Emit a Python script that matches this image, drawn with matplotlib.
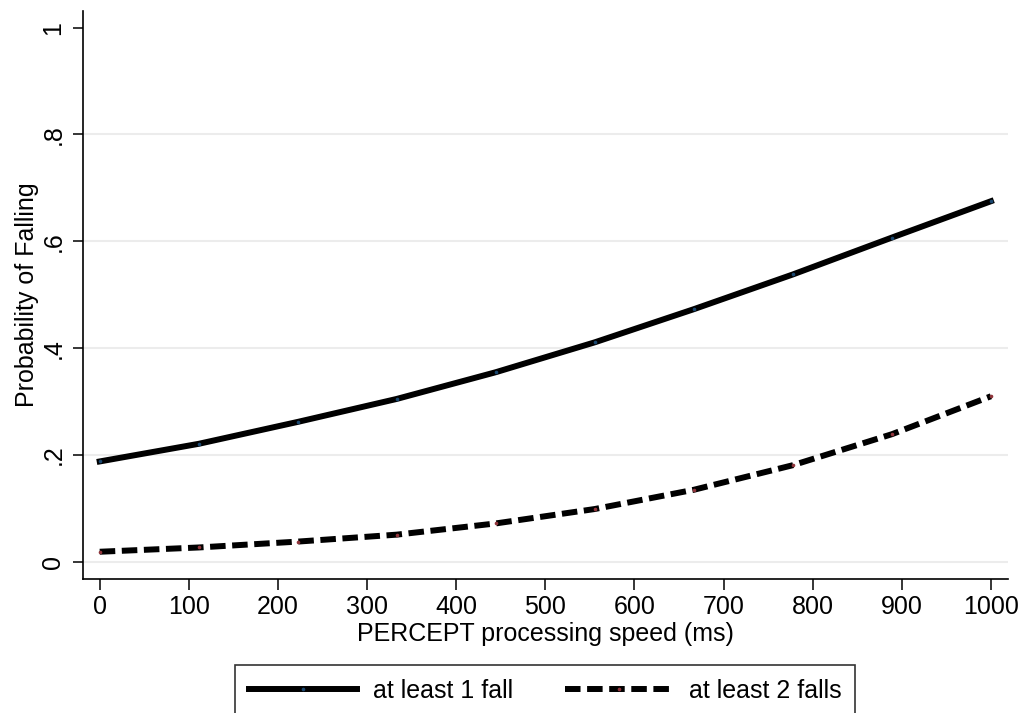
import matplotlib
matplotlib.use("Agg")
import matplotlib.pyplot as plt

plt.rcParams['font.family'] = ['Liberation Sans', 'DejaVu Sans']

# values
speed = [0, 111.1, 222.2, 333.3, 444.4, 555.6, 666.7, 777.8, 888.9, 1000]
one_fall = [0.188, 0.221, 0.262, 0.305, 0.355, 0.411, 0.473, 0.538, 0.607, 0.675]
two_falls = [0.019, 0.027, 0.038, 0.051, 0.072, 0.099, 0.135, 0.181, 0.239, 0.310]

xticks = [0, 100, 200, 300, 400, 500, 600, 700, 800, 900, 1000]
yticks = [0, 0.2, 0.4, 0.6, 0.8, 1]
ytick_labels = ['0', '.2', '.4', '.6', '.8', '1']
grid_vals = [0, 0.2, 0.4, 0.6, 0.8]

fs = 18

fig = plt.figure(figsize=(10.19, 7.13), dpi=100)
ax = fig.add_axes([82.7 / 1019, 1 - 579 / 713, (1007.7 - 82.7) / 1019, (579 - 11) / 713])

for g in grid_vals:
    ax.axhline(g, color='#ececec', lw=1.5, zorder=0)

ax.plot(speed, one_fall, color='black', lw=4.3, marker='o', ms=1.6,
        mfc='#1a476f', mec='#1a476f', label='at least 1 fall', zorder=3)
ax.plot(speed, two_falls, color='black', lw=4.3, ls=(0, (2.6, 1.1)), marker='o', ms=1.6,
        mfc='#90353b', mec='#90353b', label='at least 2 falls', zorder=3)

ax.set_xlim(-19.1, 1018.8)
ax.set_ylim(-0.032, 1.031)
ax.set_xticks(xticks)
ax.set_xticklabels([str(t) for t in xticks], fontsize=fs)
ax.set_yticks(yticks)
ax.set_yticklabels(ytick_labels, fontsize=fs, rotation=90, va='center')

ax.spines['top'].set_visible(False)
ax.spines['right'].set_visible(False)
for s in ['left', 'bottom']:
    ax.spines[s].set_linewidth(1.2)
ax.tick_params(axis='x', length=8, width=1.1, pad=3.5)
ax.tick_params(axis='y', length=7.5, width=1.1, pad=5)

ax.set_xlabel('PERCEPT processing speed (ms)', fontsize=fs, labelpad=2)
ax.set_ylabel('Probability of Falling', fontsize=fs, labelpad=2)

leg = fig.legend(loc='upper center', bbox_to_anchor=(545.3 / 1019, 1 - 665 / 713),
                 ncol=2, fontsize=fs, frameon=True, fancybox=False, borderaxespad=0,
                 handlelength=4.3, handletextpad=0.64, columnspacing=2.1, borderpad=0.55)
leg.get_frame().set_edgecolor('black')
leg.get_frame().set_linewidth(1.2)

fig.savefig('out.png', dpi=100, facecolor='white')
